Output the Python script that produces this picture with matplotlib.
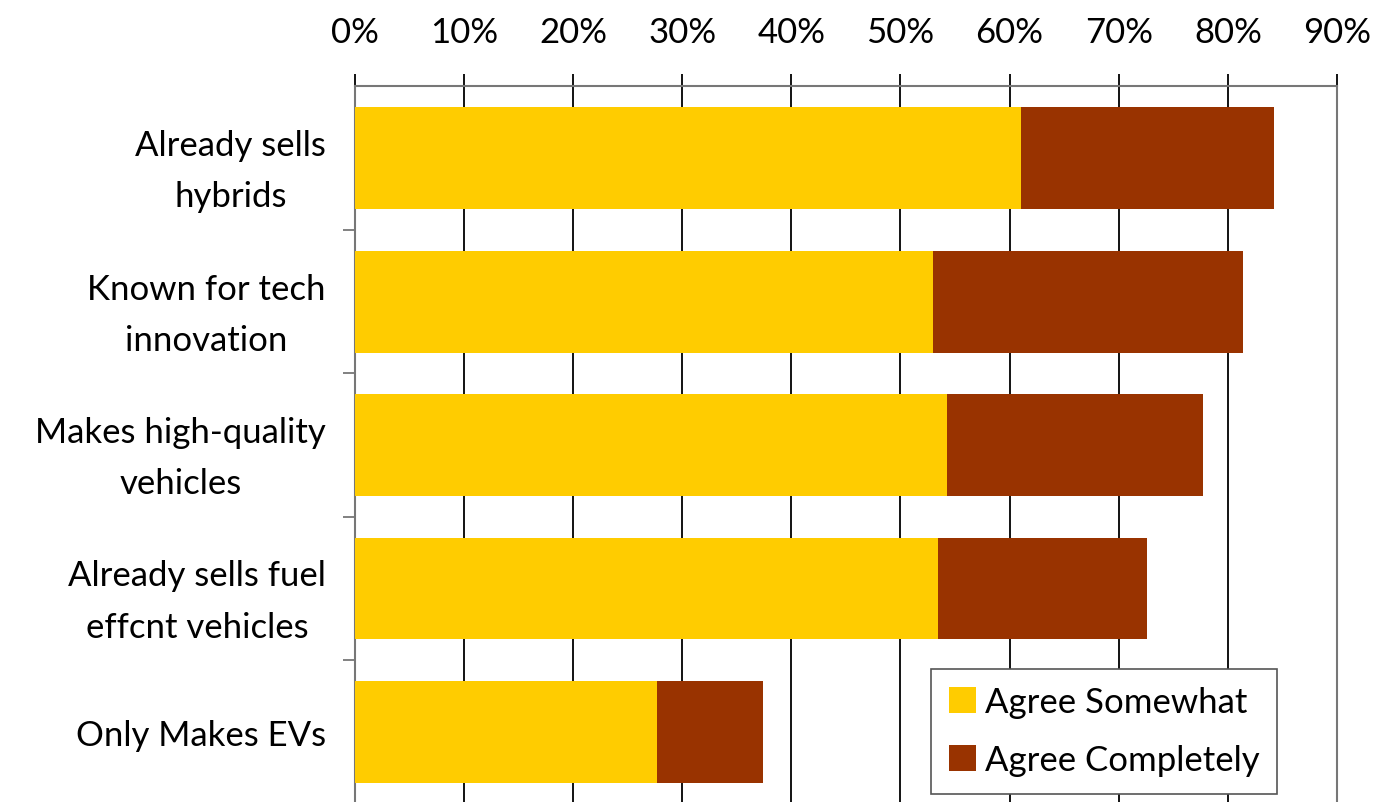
import matplotlib
matplotlib.use("Agg")
import matplotlib.pyplot as plt
import numpy as np
from matplotlib.ticker import MultipleLocator, FixedLocator, PercentFormatter

plt.rcParams["font.family"] = ["Lato", "DejaVu Sans"]

categories = [
    "Already sells\nhybrids",
    "Known for tech\ninnovation",
    "Makes high-quality\nvehicles",
    "Already sells fuel\neffcnt vehicles",
    "Only Makes EVs",
]
agree_somewhat = [61.0, 53.0, 54.3, 53.4, 27.7]
agree_completely = [23.2, 28.4, 23.4, 19.2, 9.7]

YELLOW = "#FFCC00"
RUST = "#993300"
FS = 25

fig = plt.figure(figsize=(13.8, 8.03), dpi=100)
ax = fig.add_axes([0.2572, -0.002, 0.7116, 0.8949 - 0.0018])

y = np.arange(len(categories))
ax.barh(y, agree_somewhat, height=0.71, color=YELLOW, label="Agree Somewhat", zorder=3)
ax.barh(y, agree_completely, left=agree_somewhat, height=0.71, color=RUST,
        label="Agree Completely", zorder=3)

ax.set_xlim(0, 90)
ax.set_ylim(len(categories) - 0.5, -0.5)
ax.xaxis.set_major_locator(MultipleLocator(10))
ax.xaxis.set_major_formatter(PercentFormatter(decimals=0))
ax.xaxis.tick_top()
ax.grid(axis="x", color="black", linewidth=1.3, zorder=0)
ax.tick_params(axis="x", direction="out", length=8.6, width=1.3, color="black",
               labelsize=FS, pad=19)

# category labels sit between boundary ticks
ax.yaxis.set_major_locator(FixedLocator(y))
ax.set_yticklabels(categories)
ax.yaxis.set_minor_locator(FixedLocator(np.arange(0.5, len(categories) - 1, 1)))
ax.tick_params(axis="y", which="major", length=0, labelsize=FS, pad=21)
ax.tick_params(axis="y", which="minor", direction="out", length=9, width=1.3, color="#777777")
for lbl in ax.get_yticklabels():
    lbl.set_multialignment("center")
    lbl.set_linespacing(1.74)

for side in ("top", "left", "right"):
    ax.spines[side].set_color("#777777")
    ax.spines[side].set_linewidth(1.5)
ax.spines["bottom"].set_visible(False)

leg = ax.legend(loc="lower right", bbox_to_anchor=(0.939, 0.014), borderaxespad=0,
                fontsize=FS, frameon=True, fancybox=False, edgecolor="#555555",
                handlelength=0.8, handleheight=0.8, handletextpad=0.25,
                labelspacing=0.75, borderpad=0.5, framealpha=1)
leg.get_frame().set_linewidth(1.2)
leg.set_zorder(5)

fig.savefig("out.png", dpi=100)
